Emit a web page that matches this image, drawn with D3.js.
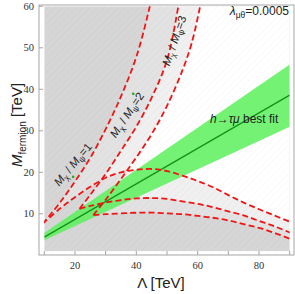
<!DOCTYPE html>
<html>
<head>
<meta charset="utf-8">
<script src="https://cdn.jsdelivr.net/npm/d3@7"></script>
<style>
  body { margin: 0; background: #fff; }
  svg { display: block; }
</style>
</head>
<body>
<div id="wrapper"></div>
<script>
// boundaries: [Lambda (TeV), M_fermion (TeV)]
const ratio1Upper = [[9.5,7.6],[15,12.6],[20,17.8],[25,23.5],[30,30.4],[35,38.3],[40,47.8],[44.4,60],[45.5,64]]
const ratio1Lower = [[9.5,7.6],[15,11.2],[20,14],[25,16.5],[30,18.7],[35,20],[40,20.6],[45,20.8],[50,20.3],[55,19.2],[60,17.9],[65,16.4],[70,14.5],[75,12.7],[80,11.1],[85,9.6],[90,8.1],[91,7.8]]
const ratio2Upper = [[21.5,11.2],[25,14.6],[30,19.6],[35,25.2],[40,31],[45,38],[50,47],[53.7,60],[54.6,64]]
const ratio2Lower = [[21.5,11.2],[25,11.9],[30,12.7],[35,13.3],[40,13.7],[45,13.8],[50,13.6],[55,13],[60,12.4],[65,11.6],[70,10.6],[75,9.6],[80,8.3],[85,7],[90,5.5],[91,5.2]]
const ratio3Upper = [[26,9.7],[30,13.4],[35,18.4],[40,23.6],[45,29.2],[50,36],[55,44.5],[58,51],[60.8,60],[61.8,64]]
const ratio3Lower = [[26,9.7],[30,9.9],[35,10.1],[40,10.25],[45,10.3],[50,10.1],[55,9.9],[60,9.5],[65,9.05],[70,8.4],[75,7.5],[80,6.6],[85,5.4],[90,4],[91,3.7]]

const bestFit = [[10,4.4],[90,38.6]]
const bandUpper = [[10,5.4],[90,46]]
const bandLower = [[10,3.6],[90,31]]
const strayPoints = [[39,38.9],[19.4,18.9]]

const xTicks = [10,20,30,40,50,60,70,80,90]
const xTickLabels = [20,40,60,80]
const yTicks = [10,20,30,40,50,60]

const width = 295
const height = 294
const frame = {left: 39, top: 5, right: 294, bottom: 255}

const svg = d3.select("#wrapper")
  .append("svg")
    .attr("width", width)
    .attr("height", height)

const xScale = d3.scaleLinear()
  .domain([10, 90])
  .range([44.3, 289.7])
const yScale = d3.scaleLinear()
  .domain([10, 60])
  .range([213.8, 6.3])

const plotX0 = xScale(10), plotX1 = xScale(90)
const plotY0 = yScale(60), plotY1 = yScale(1)

const defs = svg.append("defs")
defs.append("clipPath").attr("id", "plotClip")
  .append("rect")
    .attr("x", plotX0)
    .attr("y", plotY0)
    .attr("width", plotX1 - plotX0)
    .attr("height", plotY1 - plotY0)

const hatch = defs.append("pattern")
  .attr("id", "hatch")
  .attr("patternUnits", "userSpaceOnUse")
  .attr("width", 7)
  .attr("height", 7)
hatch.append("path")
  .attr("d", "M0,7 L7,0 M-1,1 L1,-1 M6,8 L8,6")
  .attr("stroke", "#000")
  .attr("stroke-opacity", 0.05)
  .attr("stroke-width", 0.6)

const bounds = svg.append("g").attr("clip-path", "url(#plotClip)")

const curveGen = d3.line()
  .x(d => xScale(d[0]))
  .y(d => yScale(d[1]))
  .curve(d3.curveCatmullRom)

// excluded area for one ratio = plot rect minus the wedge between the two branches
function wedgePath(upper, lower) {
  const top = upper[upper.length - 1]
  const low = lower[lower.length - 1]
  const up = curveGen(upper)
  const back = curveGen(lower.slice().reverse()).replace(/^M/, "L")
  return up
    + `L${xScale(95)},${yScale(top[1])}`
    + `L${xScale(95)},${yScale(low[1])}`
    + back + "Z"
}
const rectPath = `M${plotX0},${plotY0}H${plotX1}V${plotY1}H${plotX0}Z`

const ratios = [
  [ratio1Upper, ratio1Lower],
  [ratio2Upper, ratio2Lower],
  [ratio3Upper, ratio3Lower],
]

bounds.selectAll("path.excluded")
  .data(ratios)
  .enter()
  .append("path")
    .attr("class", "excluded")
    .attr("d", d => rectPath + wedgePath(d[0], d[1]))
    .attr("fill-rule", "evenodd")
    .attr("fill", "#808080")
    .attr("fill-opacity", 0.12)

bounds.append("rect")
  .attr("x", plotX0)
  .attr("y", plotY0)
  .attr("width", plotX1 - plotX0)
  .attr("height", plotY1 - plotY0)
  .attr("fill", "url(#hatch)")

// green band + best fit line
const band = bandUpper.concat(bandLower.slice().reverse())
bounds.append("path")
  .attr("d", d3.line().x(d => xScale(d[0])).y(d => yScale(d[1]))(band) + "Z")
  .attr("fill", "#5cf05c")
  .attr("fill-opacity", 0.85)

bounds.append("path")
  .attr("d", d3.line().x(d => xScale(d[0])).y(d => yScale(d[1]))(bestFit))
  .attr("fill", "none")
  .attr("stroke", "#13921a")
  .attr("stroke-width", 1.4)

// red dashed boundaries
const branches = [ratio1Upper, ratio1Lower, ratio2Upper, ratio2Lower, ratio3Upper, ratio3Lower]
bounds.selectAll("path.bound")
  .data(branches)
  .enter()
  .append("path")
    .attr("class", "bound")
    .attr("d", curveGen)
    .attr("fill", "none")
    .attr("stroke", "#f01414")
    .attr("stroke-width", 1.8)
    .attr("stroke-dasharray", "6 3.2")

bounds.selectAll("circle")
  .data(strayPoints)
  .enter()
  .append("circle")
    .attr("cx", d => xScale(d[0]))
    .attr("cy", d => yScale(d[1]))
    .attr("r", 1.3)
    .attr("fill", "#22aa22")

// frame and ticks
svg.append("rect")
  .attr("x", frame.left)
  .attr("y", frame.top)
  .attr("width", frame.right - frame.left)
  .attr("height", frame.bottom - frame.top)
  .attr("fill", "none")
  .attr("stroke", "#a5a5a5")
  .attr("stroke-width", 1)

svg.selectAll("line.xtick")
  .data(xTicks)
  .enter()
  .append("line")
    .attr("class", "xtick")
    .attr("x1", d => xScale(d))
    .attr("x2", d => xScale(d))
    .attr("y1", frame.bottom)
    .attr("y2", frame.bottom - 4)
    .attr("stroke", "#a5a5a5")

svg.selectAll("line.ytick")
  .data(yTicks)
  .enter()
  .append("line")
    .attr("class", "ytick")
    .attr("x1", frame.left)
    .attr("x2", frame.left + 4)
    .attr("y1", d => yScale(d))
    .attr("y2", d => yScale(d))
    .attr("stroke", "#a5a5a5")

svg.selectAll("text.xlab")
  .data(xTickLabels)
  .enter()
  .append("text")
    .attr("class", "xlab")
    .attr("x", d => xScale(d))
    .attr("y", 269)
    .attr("text-anchor", "middle")
    .attr("font-family", "Liberation Serif, serif")
    .attr("font-size", 10.5)
    .attr("fill", "#333")
    .text(d => d)

svg.selectAll("text.ylab")
  .data(yTicks)
  .enter()
  .append("text")
    .attr("class", "ylab")
    .attr("x", 34)
    .attr("y", d => yScale(d) + 3.5)
    .attr("text-anchor", "end")
    .attr("font-family", "Liberation Serif, serif")
    .attr("font-size", 10.5)
    .attr("fill", "#333")
    .text(d => d)

// axis titles
const sans = "Liberation Sans, Arial, sans-serif"
svg.append("text")
  .attr("x", 161)
  .attr("y", 288)
  .attr("text-anchor", "middle")
  .attr("font-family", sans)
  .attr("font-size", 15)
  .attr("fill", "#222")
  .text("Λ [TeV]")

const yTitle = svg.append("text")
  .attr("transform", "translate(22,125) rotate(-90)")
  .attr("text-anchor", "middle")
  .attr("font-family", sans)
  .attr("font-size", 15)
  .attr("fill", "#222")
yTitle.append("tspan").attr("font-style", "italic").text("M")
yTitle.append("tspan").attr("font-size", 10).attr("dy", 4).text("fermion")
yTitle.append("tspan").attr("dy", -4).text(" [TeV]")

// curve labels
function ratioLabel(lam, m, angle, n) {
  const t = svg.append("text")
    .attr("transform", `translate(${xScale(lam)},${yScale(m)}) rotate(${angle})`)
    .attr("text-anchor", "middle")
    .attr("font-family", sans)
    .attr("font-size", 11.5)
    .attr("fill", "#222")
  t.append("tspan").attr("font-style", "italic").text("M")
  t.append("tspan").attr("font-size", 8).attr("dy", 2.5).text("χ")
  t.append("tspan").attr("dy", -2.5).text(" / ")
  t.append("tspan").attr("font-style", "italic").text("M")
  t.append("tspan").attr("font-size", 8).attr("dy", 2.5).text("ψ")
  t.append("tspan").attr("dy", -2.5).text("=" + n)
}
ratioLabel(20.3, 21.3, -50, 1)
ratioLabel(38, 33.3, -56, 2)
ratioLabel(53.6, 51.4, -71, 3)

const fitLabel = svg.append("text")
  .attr("x", xScale(64))
  .attr("y", yScale(32))
  .attr("font-family", sans)
  .attr("font-size", 12)
  .attr("fill", "#222")
fitLabel.append("tspan").attr("font-style", "italic").text("h")
fitLabel.append("tspan").text("→")
fitLabel.append("tspan").attr("font-style", "italic").text("τμ")
fitLabel.append("tspan").text(" best fit")

const lamLabel = svg.append("text")
  .attr("x", 289)
  .attr("y", 15)
  .attr("text-anchor", "end")
  .attr("font-family", sans)
  .attr("font-size", 12)
  .attr("fill", "#222")
lamLabel.append("tspan").attr("font-style", "italic").text("λ")
lamLabel.append("tspan").attr("font-size", 8.5).attr("dy", 2.5).text("μθ")
lamLabel.append("tspan").attr("dy", -2.5).text("=0.0005")
</script>
</body>
</html>
